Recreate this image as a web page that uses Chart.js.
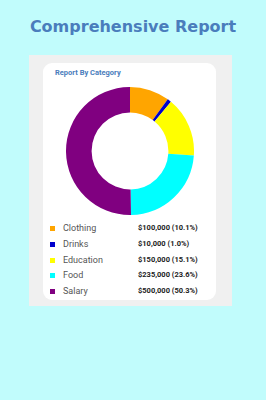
<!DOCTYPE html>
<html>
<head>
<meta charset="utf-8">
<script src="https://cdn.jsdelivr.net/npm/chart.js@4"></script>
<style>
  html, body { margin: 0; padding: 0; }
  body { width: 266px; height: 400px; background: #c1fcfc; position: relative; overflow: hidden; font-family: Roboto, sans-serif; }
  #title { position: absolute; left: 0; top: 17px; width: 266px; text-align: center; font-family: "DejaVu Sans", Verdana, sans-serif; font-weight: bold; font-size: 16px; line-height: 20px; color: #4a7dbc; }
  #panel { position: absolute; left: 29px; top: 55px; width: 203px; height: 251px; background: #f0f0f0; }
  #card { position: absolute; left: 43px; top: 63px; width: 173px; height: 237px; background: #fff; border-radius: 9px; }
  #cardTitle { position: absolute; left: 12px; top: 5px; font-size: 7.5px; font-weight: bold; color: #4a7dbc; }
  #chartBox { position: absolute; left: 23px; top: 24px; width: 128px; height: 128px; }
  #legend { position: absolute; left: 0; top: 159px; width: 173px; }
  .row { position: absolute; left: 0; height: 12px; width: 173px; }
  .sw { position: absolute; left: 7px; top: 4px; width: 5px; height: 5px; }
  .lab { position: absolute; left: 20px; top: 0; font-size: 9px; color: #555; line-height: 12px; }
  .val { position: absolute; left: 95px; top: 0; font-size: 7.5px; font-weight: bold; color: #222; line-height: 12px; }
</style>
</head>
<body>
<div id="title">Comprehensive Report</div>
<div id="panel"></div>
<div id="card">
  <div id="cardTitle">Report By Category</div>
  <div id="chartBox"><canvas id="chart"></canvas></div>
  <div id="legend"></div>
</div>
<script>
let categories = ["Clothing", "Drinks", "Education", "Food", "Salary"]
let amounts = [100000, 10000, 150000, 235000, 500000]
let colors = ["#ffa500", "#0000cd", "#ffff00", "#00ffff", "#800080"]

let total = amounts.reduce((a, b) => a + b, 0)

let legendHTML = ""
categories.forEach((cat, i) => {
    let pct = (amounts[i] / total * 100).toFixed(1)
    legendHTML += `<div class="row" style="top:${i * 15.8}px">`
    legendHTML += `<div class="sw" style="background:${colors[i]}"></div>`
    legendHTML += `<div class="lab">${cat}</div>`
    legendHTML += `<div class="val">$${amounts[i].toLocaleString('en-US')} (${pct}%)</div>`
    legendHTML += "</div>"
})
document.getElementById("legend").innerHTML = legendHTML

chart = new Chart(
    document.getElementById("chart"),
    {
        type: 'doughnut',
        data: {
            labels: categories,
            datasets: [
                {
                    data: amounts,
                    backgroundColor: colors,
                    borderWidth: 0
                }
            ]
        },
        options: {
            responsive: true,
            maintainAspectRatio: false,
            animation: false,
            cutout: '60%',
            plugins: {
                legend: { display: false },
                tooltip: { enabled: false }
            }
        }
    }
)
</script>
</body>
</html>
